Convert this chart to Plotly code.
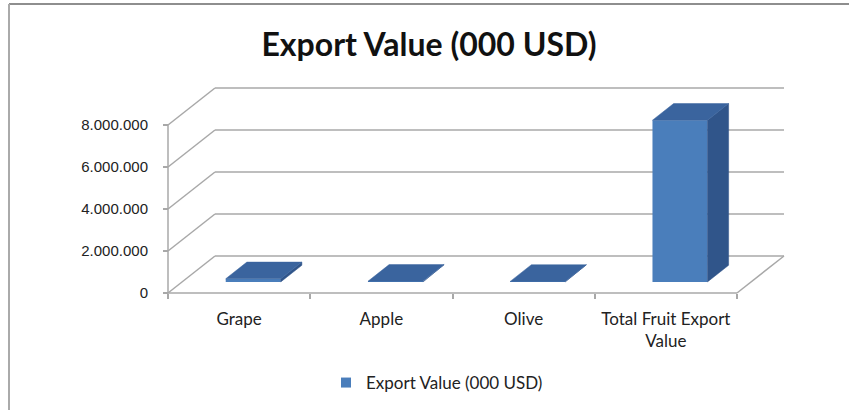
import plotly.graph_objects as go

# ---- data -----------------------------------------------------------------
categories = ["Grape", "Apple", "Olive", "Total Fruit Export Value"]
category_labels = ["Grape", "Apple", "Olive", "Total Fruit Export<br>Value"]
export_values = [150000, 30000, 25000, 7700000]
y_tick_values = [0, 2000000, 4000000, 6000000, 8000000]
y_tick_labels = [f"{v:,}".replace(",", ".") for v in y_tick_values]
series_name = "Export Value (000 USD)"

# ---- page / projection setup ---------------------------------------------
W, H = 849, 410
X0_PX, PX_PER_CAT = 168, 142.25          # front-left floor corner, px per category
Y0_PX, PX_PER_VAL = 293, 21 / 1e6        # front floor line, px per value unit

x_range = [-X0_PX / PX_PER_CAT, (W - X0_PX) / PX_PER_CAT]
y_range = [-(H - Y0_PX) / PX_PER_VAL, Y0_PX / PX_PER_VAL]

# oblique depth vector of the 3D box, in data units
DEPTH_X = 47 / PX_PER_CAT
DEPTH_Y = 37 / PX_PER_VAL

HALF_W = 0.1933          # half bar width (categories)
F0, F1 = 0.30, 0.75      # bar front / back depth fractions

FRONT = "#4A7EBB"
TOP = "#3A649E"
SIDE = "#30558A"
GRID = "#A8A8A8"
TEXT = "#222222"
n_cat = len(categories)

fig = go.Figure()

# front faces of the columns
bar_x = [i + 0.5 + F0 * DEPTH_X for i in range(n_cat)]
fig.add_trace(go.Bar(
    x=bar_x, y=export_values, base=[F0 * DEPTH_Y] * n_cat,
    width=2 * HALF_W, marker=dict(color=FRONT, line=dict(width=0)),
    name=series_name, showlegend=False, hoverinfo="skip",
))

# top and right-side faces
ddx = (F1 - F0) * DEPTH_X
ddy = (F1 - F0) * DEPTH_Y
for i, v in enumerate(export_values):
    xl = i + 0.5 - HALF_W + F0 * DEPTH_X
    xr = i + 0.5 + HALF_W + F0 * DEPTH_X
    b = F0 * DEPTH_Y
    t = b + v
    fig.add_trace(go.Scatter(
        x=[xr, xr + ddx, xr + ddx, xr, xr],
        y=[b, b + ddy, t + ddy, t, b],
        fill="toself", fillcolor=SIDE, mode="lines",
        line=dict(color=SIDE, width=0.5), showlegend=False, hoverinfo="skip",
    ))
    fig.add_trace(go.Scatter(
        x=[xl, xr, xr + ddx, xl + ddx, xl],
        y=[t, t, t + ddy, t + ddy, t],
        fill="toself", fillcolor=TOP, mode="lines",
        line=dict(color=TOP, width=0.5), showlegend=False, hoverinfo="skip",
    ))

# legend entry for the series
fig.add_trace(go.Scatter(
    x=[None], y=[None], mode="markers", name=series_name,
    marker=dict(symbol="square", size=10, color=FRONT),
))

# ---- walls, floor and gridlines ------------------------------------------
shapes = []
line_style = dict(color=GRID, width=1.5)
x_end = n_cat
for v in y_tick_values:
    # back wall gridline
    shapes.append(dict(type="line", xref="x", yref="y", layer="below",
                       x0=DEPTH_X, y0=v + DEPTH_Y, x1=x_end + DEPTH_X, y1=v + DEPTH_Y,
                       line=line_style))
    # side wall diagonal
    shapes.append(dict(type="line", xref="x", yref="y", layer="below",
                       x0=0, y0=v, x1=DEPTH_X, y1=v + DEPTH_Y, line=line_style))
# floor front edge and right edge
shapes.append(dict(type="line", xref="x", yref="y", layer="below",
                   x0=0, y0=0, x1=x_end, y1=0, line=line_style))
shapes.append(dict(type="line", xref="x", yref="y", layer="below",
                   x0=x_end, y0=0, x1=x_end + DEPTH_X, y1=DEPTH_Y, line=line_style))
# front value axis
shapes.append(dict(type="line", xref="x", yref="y", layer="below",
                   x0=0, y0=0, x1=0, y1=max(y_tick_values), line=line_style))
# chart frame
shapes.append(dict(type="line", xref="paper", yref="paper",
                   x0=9 / W, y0=1 - 4 / H, x1=1, y1=1 - 4 / H,
                   line=dict(color="#8E8E8E", width=2)))
shapes.append(dict(type="line", xref="paper", yref="paper",
                   x0=9 / W, y0=0, x1=9 / W, y1=1 - 4 / H,
                   line=dict(color="#AAAAAA", width=2)))

fig.update_layout(
    width=W, height=H,
    margin=dict(l=0, r=0, t=0, b=0),
    paper_bgcolor="white", plot_bgcolor="white",
    shapes=shapes,
    showlegend=True,
    legend=dict(orientation="h", x=437 / W, xanchor="center",
                y=1 - 383 / H, yanchor="middle",
                font=dict(family="Lato", size=17, color=TEXT),
                bgcolor="rgba(0,0,0,0)"),
    title=dict(text="<b>Export Value (000 USD)</b>", x=429 / W, xanchor="center",
               y=1 - 45 / H, yanchor="middle", yref="container",
               font=dict(family="Lato", size=32, color="#111111")),
    xaxis=dict(range=x_range, anchor="free", position=(H - Y0_PX) / H,
               showgrid=False, zeroline=False, showline=False,
               tickmode="array", tickvals=[i + 0.5 for i in range(n_cat)],
               ticktext=category_labels, ticks="", ticklabelstandoff=14,
               tickfont=dict(family="Lato", size=17, color=TEXT),
               minor=dict(tickmode="array", tickvals=list(range(n_cat + 1)),
                          ticks="outside", ticklen=5, tickcolor=GRID, tickwidth=1.5),
               automargin=False, fixedrange=True),
    yaxis=dict(range=y_range, anchor="free", position=X0_PX / W,
               showgrid=False, zeroline=False, showline=False,
               tickmode="array", tickvals=y_tick_values, ticktext=y_tick_labels,
               ticks="outside", ticklen=5, tickcolor=GRID, tickwidth=1.5,
               ticklabelstandoff=12,
               tickfont=dict(family="Liberation Sans", size=15, color=TEXT),
               automargin=False, fixedrange=True),
)

fig.write_html("out.html")
